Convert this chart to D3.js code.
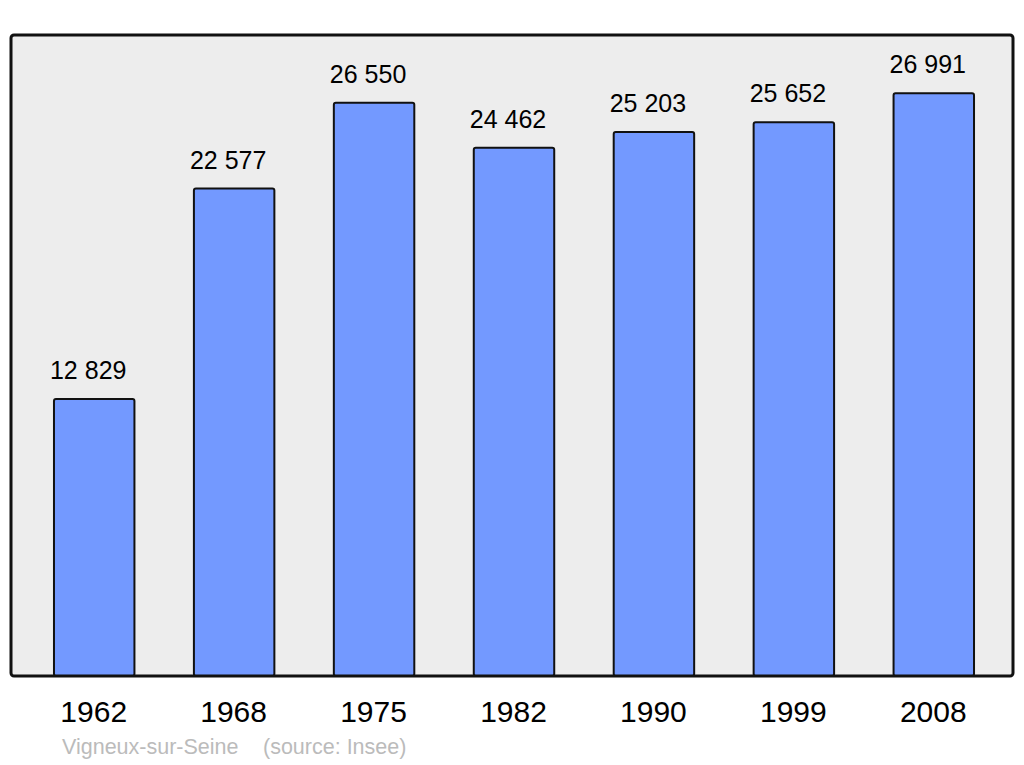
<!DOCTYPE html>
<meta charset="utf-8">
<style>
body { margin: 0; background: #fff; }
text { font-family: "Liberation Sans", Arial, sans-serif; }
</style>
<svg width="1024" height="765"></svg>
<script src="https://d3js.org/d3.v7.min.js"></script>
<script>

var years = ["1962", "1968", "1975", "1982", "1990", "1999", "2008"];
var population = [12829, 22577, 26550, 24462, 25203, 25652, 26991];
var labels = ["12 829", "22 577", "26 550", "24 462", "25 203", "25 652", "26 991"];

var svg = d3.select("svg");

var x = d3.scaleBand()
    .domain(years)
    .range([14, 1014])
    .paddingInner(59.5 / 140)
    .paddingOuter(0.2857);

var y = d3.scaleLinear()
    .domain([0, d3.max(population) * 1.1])
    .range([676, 35]);

// panel background
svg.append("rect")
    .attr("x", 11)
    .attr("y", 35)
    .attr("width", 1002)
    .attr("height", 641)
    .attr("rx", 3)
    .attr("fill", "#ededed");

var bars = svg.append("g")
  .selectAll("g")
  .data(years)
  .enter().append("g");

bars.append("rect")
    .attr("x", function(d) { return x(d); })
    .attr("width", x.bandwidth())
    .attr("y", function(d, i) { return y(population[i]); })
    .attr("height", function(d, i) { return y(0) - y(population[i]); })
    .attr("rx", 2)
    .attr("fill", "#7399ff")
    .attr("stroke", "#111")
    .attr("stroke-width", 2);

bars.append("text")
    .attr("x", function(d) { return x(d) + x.bandwidth() / 2 - 6; })
    .attr("y", function(d, i) { return y(population[i]) - 20; })
    .attr("text-anchor", "middle")
    .attr("font-size", 25)
    .attr("fill", "#000")
    .text(function(d, i) { return labels[i]; });

// panel outline on top of the bars
svg.append("rect")
    .attr("x", 11)
    .attr("y", 35)
    .attr("width", 1002)
    .attr("height", 641)
    .attr("rx", 3)
    .attr("fill", "none")
    .attr("stroke", "#111")
    .attr("stroke-width", 3);

svg.append("g")
  .selectAll("text")
  .data(years)
  .enter().append("text")
    .attr("x", function(d) { return x(d) + x.bandwidth() / 2 - 0.5; })
    .attr("y", 722)
    .attr("text-anchor", "middle")
    .attr("font-size", 30)
    .attr("fill", "#000")
    .text(function(d) { return d; });

svg.append("text")
    .attr("x", 62)
    .attr("y", 754)
    .attr("font-size", 21.5)
    .attr("fill", "#bbb")
    .text("Vigneux-sur-Seine");

svg.append("text")
    .attr("x", 263)
    .attr("y", 754)
    .attr("font-size", 21.5)
    .attr("fill", "#bbb")
    .text("(source: Insee)");

</script>
